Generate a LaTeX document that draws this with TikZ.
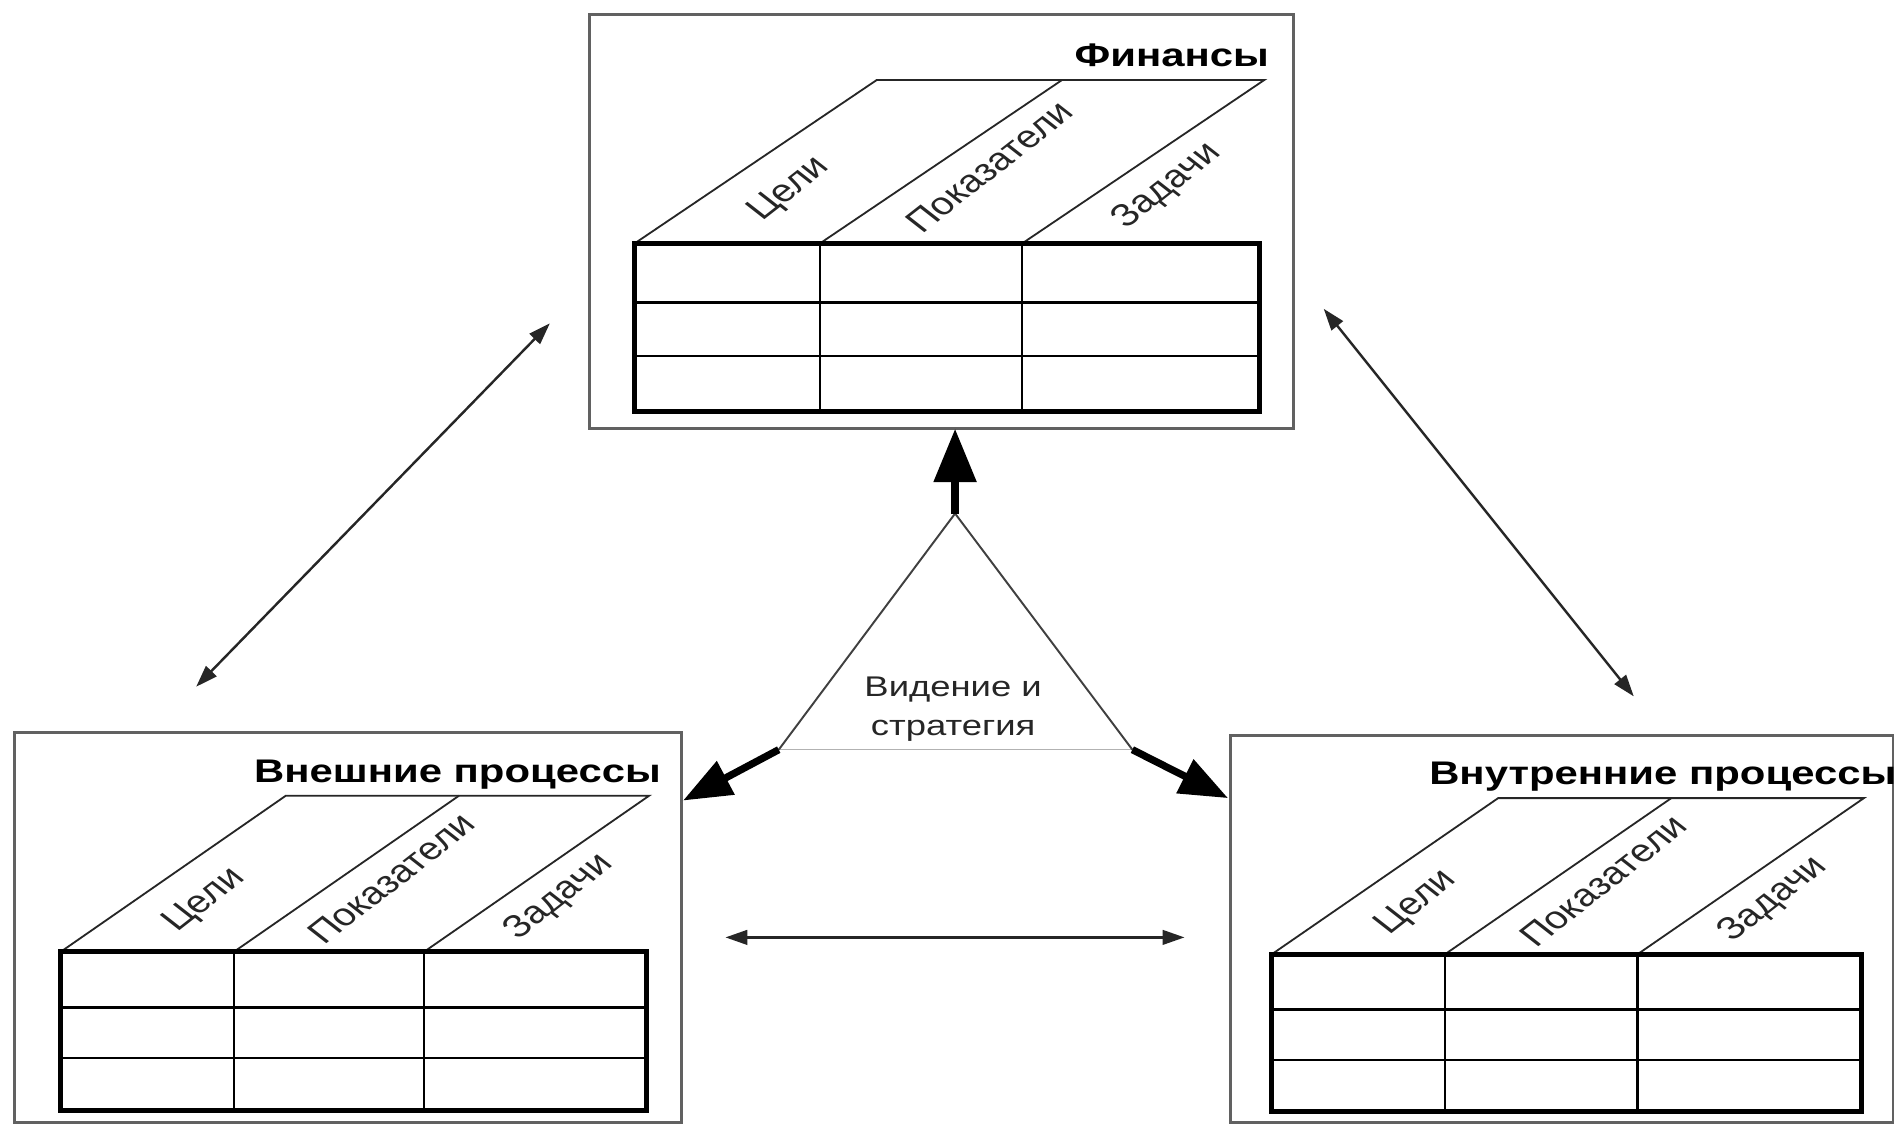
\documentclass[tikz,border=0pt]{standalone}
\usepackage{fontspec}
\setmainfont{Liberation Sans}
\usetikzlibrary{arrows.meta,calc}
\tikzset{
  outerbox/.style={draw=black!62, line width=2.4pt, inner sep=0pt, outer sep=0pt},
  tableframe/.style={draw=black, line width=4.2pt, line join=miter},
  gridline/.style={draw=black, line width=1.9pt},
  slantline/.style={draw=black!85, line width=1.5pt},
  ttl/.style={font=\bfseries\fontsize{27}{30}\selectfont, xscale=1.28, inner sep=0pt, anchor=base east},
  lbl/.style={font=\fontsize{26}{30}\selectfont, inner sep=0pt, text=black!85, cm={0.905,0.707,-0.905,0.707,(0,0)}},
  ctext/.style={font=\fontsize{23.5}{30}\selectfont, xscale=1.28, inner sep=0pt, anchor=base, text=black!85},
  triside/.style={draw=black!75, line width=1.6pt},
  tribase/.style={draw=black!30, line width=1.2pt},
  bigarrow/.style={draw=black, line width=6.5pt, -{Triangle[length=44pt,width=34pt]}},
  sidearrow/.style={draw=black, line width=6pt, -{Triangle[length=40pt,width=30pt]}},
  thinarrow/.style={draw=black!85, line width=2pt, {Triangle[length=18pt,width=12pt]}-{Triangle[length=18pt,width=12pt]}}
}
\newcommand{\bscgrid}[9]{%
  \pgfmathsetmacro{\bscrA}{#6+0.35*(#7-#6)}%
  \pgfmathsetmacro{\bscrB}{#6+0.67*(#7-#6)}%
  \pgfmathsetmacro{\bscH}{#6-#8}%
  \draw[slantline] (#2,#6) -- ({#2+#9},#8) -- ({#4+#9},#8) -- (#4,#6);
  \draw[slantline] (#3,#6) -- ({#3+#9},#8);
  \draw[gridline] (#2,\bscrA) -- (#5,\bscrA) (#2,\bscrB) -- (#5,\bscrB) (#3,#6) -- (#3,#7) (#4,#6) -- (#4,#7);
  \draw[tableframe] (#2,#6) rectangle (#5,#7);
  \node[lbl] (#1-goals) at ({#2+0.64*#9},{#6-0.33*\bscH}) {Цели};
  \node[lbl] (#1-kpi) at ({#3+0.70*#9},{#6-0.47*\bscH}) {Показатели};
  \node[lbl] (#1-tasks) at ({#4+0.60*#9},{#6-0.35*\bscH}) {Задачи};
}
\begin{document}
\begin{tikzpicture}[x=1pt,y=-1pt]
\fill[white] (0,0) rectangle (1568,929);
\useasboundingbox (0,0) rectangle (1568,929);

% outer boxes
\node[outerbox, minimum width=581pt, minimum height=342pt] (fin) at (777.5,183) {};
\node[outerbox, minimum width=551pt, minimum height=322pt] (ext) at (287.5,766) {};
\node[outerbox, minimum width=547pt, minimum height=320pt] (int) at (1289.5,767) {};

% tables
\bscgrid{fin}{524}{677}{844}{1040}{201}{340}{66}{200}
\bscgrid{ext}{50}{193}{350}{534}{786}{917}{657}{186}
\bscgrid{int}{1050}{1193}{1352}{1537}{788}{918}{659}{187}

% titles
\node[ttl] (finT) at (1048,55) {Финансы};
\node[ttl] (extT) at (546,646) {Внешние процессы};
\node[ttl] (intT) at (1566,648) {Внутренние процессы};

% central triangle
\coordinate (apex) at (788.6,424);
\coordinate (triL) at (643,619);
\coordinate (triR) at (935,619);
\coordinate (tipL) at (564,661);
\coordinate (tipR) at (1014,659);
\draw[tribase] (triL) -- (triR);
\draw[triside] (triL) -- (apex) -- (triR);
\draw[bigarrow] (apex) -- (apex |- fin.south);
\draw[sidearrow] (triL) -- (tipL);
\draw[sidearrow] (triR) -- (tipR);
\node[ctext] (vis1) at (787,575) {Видение и};
\node[ctext] (vis2) at (787,607) {стратегия};

% thin double arrows
\coordinate (a1) at (454,267);
\coordinate (a2) at (162,567);
\coordinate (b1) at (1093,255);
\coordinate (b2) at (1349,575);
\coordinate (c1) at (599,774);
\coordinate (c2) at (978,774);
\draw[thinarrow] (a1) -- (a2);
\draw[thinarrow] (b1) -- (b2);
\draw[thinarrow] (c1) -- (c2);
\end{tikzpicture}
\end{document}
